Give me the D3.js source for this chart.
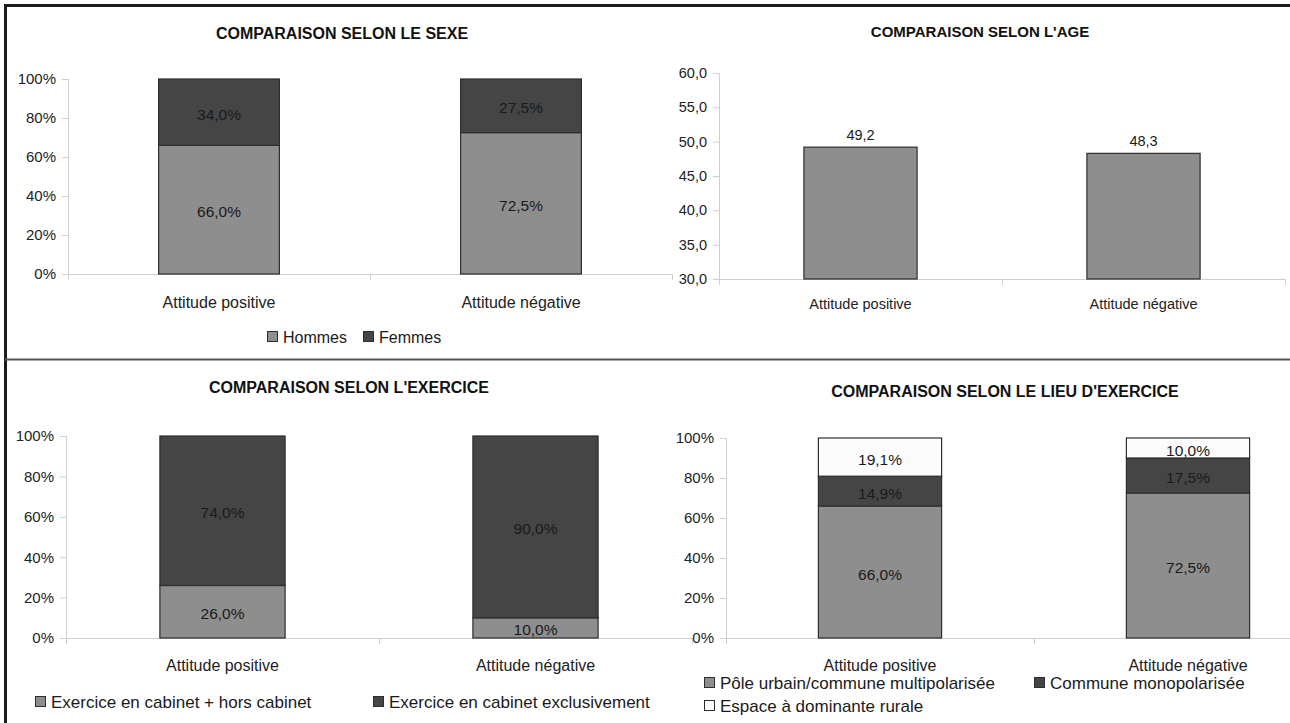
<!DOCTYPE html>
<html>
<head>
<meta charset="utf-8">
<script src="https://cdn.jsdelivr.net/npm/d3@7"></script>
<style>
  html, body { margin: 0; padding: 0; background: #fff; }
  svg { display: block; font-family: "Liberation Sans", Arial, sans-serif; }
  .axis path, .axis line { stroke: #cfcfcf; }
  .axis text { fill: #222; }
</style>
</head>
<body>
<svg id="chart" width="1290" height="723"></svg>
<script>
// ---- data ----
const attitudes = ["Attitude positive", "Attitude négative"];
const pctTicks = [0, 20, 40, 60, 80, 100];

const sexeTitle = "COMPARAISON SELON LE SEXE";
const sexeSeries = ["Hommes", "Femmes"];
const sexeValues = [[66.0, 72.5], [34.0, 27.5]];

const ageTitle = "COMPARAISON SELON L'AGE";
const ageValues = [49.2, 48.3];
const ageTicks = [30, 35, 40, 45, 50, 55, 60];

const exerciceTitle = "COMPARAISON SELON L'EXERCICE";
const exerciceSeries = ["Exercice en cabinet + hors cabinet", "Exercice en cabinet exclusivement"];
const exerciceValues = [[26.0, 10.0], [74.0, 90.0]];

const lieuTitle = "COMPARAISON SELON LE LIEU D'EXERCICE";
const lieuSeries = ["Pôle urbain/commune multipolarisée", "Commune monopolarisée", "Espace à dominante rurale"];
const lieuValues = [[66.0, 72.5], [14.9, 17.5], [19.1, 10.0]];

// ---- styles ----
const LIGHT = "#8e8e8e", DARK = "#454545", WHITE = "#fcfcfc";
const fmt1 = d3.format(".1f");
const comma = v => fmt1(v).replace(".", ",");

const svg = d3.select("#chart");

// frame lines
svg.append("line").attr("x1", 4).attr("x2", 1290).attr("y1", 5.5).attr("y2", 5.5)
  .attr("stroke", "#1c1c1c").attr("stroke-width", 3);
svg.append("line").attr("x1", 5.5).attr("x2", 5.5).attr("y1", 4).attr("y2", 723)
  .attr("stroke", "#1c1c1c").attr("stroke-width", 3);
svg.append("line").attr("x1", 5).attr("x2", 1290).attr("y1", 359.5).attr("y2", 359.5)
  .attr("stroke", "#555").attr("stroke-width", 2);

function title(text, cx, cy, fs) {
  svg.append("text").attr("x", cx).attr("y", cy)
    .attr("text-anchor", "middle").attr("dominant-baseline", "central")
    .attr("font-weight", "bold").attr("font-size", fs).attr("fill", "#111")
    .text(text);
}

function axes(g, x, y, yTicks, yFmt, x0, x1, yBase, fs) {
  const ya = g.append("g").attr("class", "axis").attr("transform", `translate(${x0},0)`)
    .call(d3.axisLeft(y).tickValues(yTicks).tickFormat(yFmt).tickSize(6).tickPadding(6));
  ya.selectAll("text").attr("font-size", fs).attr("font-family", "Liberation Sans, Arial, sans-serif");
  // category axis with boundary ticks
  const xa = g.append("g").attr("class", "axis");
  xa.append("line").attr("x1", x0).attr("x2", x1).attr("y1", yBase + 0.5).attr("y2", yBase + 0.5);
  const bounds = [x0, x0 + x.step(), x0 + 2 * x.step()];
  xa.selectAll("line.b").data(bounds).join("line").attr("class", "b")
    .attr("x1", d => d + 0.5).attr("x2", d => d + 0.5).attr("y1", yBase).attr("y2", yBase + 6);
}

function catLabels(g, x, yc, fs) {
  g.selectAll("text.cat").data(attitudes).join("text").attr("class", "cat")
    .attr("x", d => x(d) + x.bandwidth() / 2).attr("y", yc)
    .attr("text-anchor", "middle").attr("dominant-baseline", "central")
    .attr("font-size", fs).attr("fill", "#222").text(d => d);
}

function stacked(cfg) {
  const g = svg.append("g");
  const x = d3.scaleBand().domain(attitudes).range([cfg.x0, cfg.x1]).paddingInner(0).paddingOuter(0);
  const y = d3.scaleLinear().domain([0, 100]).range([cfg.yBot, cfg.yTop]);
  const barW = x.step() * 0.4;
  axes(g, x, y, pctTicks, d => d + "%", cfg.x0, cfg.x1, cfg.yBot, 15);
  const stackData = attitudes.map((a, i) => {
    const o = { cat: a };
    cfg.series.forEach((s, j) => o[s] = cfg.values[j][i]);
    return o;
  });
  const layers = d3.stack().keys(cfg.series)(stackData);
  layers.forEach((layer, j) => {
    const lg = g.append("g");
    lg.selectAll("rect").data(layer).join("rect")
      .attr("x", d => x(d.data.cat) + (x.step() - barW) / 2)
      .attr("width", barW)
      .attr("y", d => y(d[1]))
      .attr("height", d => y(d[0]) - y(d[1]))
      .attr("fill", cfg.colors[j]).attr("stroke", "#2e2e2e").attr("stroke-width", 1.2);
    lg.selectAll("text").data(layer).join("text")
      .attr("x", d => x(d.data.cat) + x.step() / 2)
      .attr("y", d => (y(d[0]) + y(d[1])) / 2 + 2)
      .attr("text-anchor", "middle").attr("dominant-baseline", "central")
      .attr("font-size", 15.5).attr("fill", "#1a1a1a")
      .text(d => comma(d[1] - d[0]) + "%");
  });
  catLabels(g, x, cfg.catY, 16);
  // legend
  cfg.legend.forEach((it, j) => {
    g.append("rect").attr("x", it[0] + 0.5).attr("y", it[1] - 5.5).attr("width", 10).attr("height", 10)
      .attr("fill", cfg.colors[j]).attr("stroke", "#2e2e2e").attr("stroke-width", 1);
    g.append("text").attr("x", it[0] + 16).attr("y", it[1]).attr("dominant-baseline", "central")
      .attr("font-size", cfg.legendSize).attr("fill", "#1a1a1a").text(cfg.series[j]);
  });
}

// top-left: sex
title(sexeTitle, 342, 33, 16);
stacked({ x0: 68, x1: 672, yTop: 79, yBot: 274, catY: 302,
  series: sexeSeries, values: sexeValues, colors: [LIGHT, DARK],
  legend: [[267, 337], [363, 337]], legendSize: 16 });

// top-right: mean age
title(ageTitle, 980, 31, 15);
(function () {
  const g = svg.append("g");
  const x0 = 719, x1 = 1285, yBot = 279, yTop = 73;
  const x = d3.scaleBand().domain(attitudes).range([x0, x1]);
  const y = d3.scaleLinear().domain([30, 60]).range([yBot, yTop]);
  const barW = x.step() * 0.4;
  axes(g, x, y, ageTicks, comma, x0, x1, yBot, 14.5);
  g.selectAll("rect").data(ageValues).join("rect")
    .attr("x", (d, i) => x(attitudes[i]) + (x.step() - barW) / 2)
    .attr("width", barW)
    .attr("y", d => y(d)).attr("height", d => yBot - y(d))
    .attr("fill", LIGHT).attr("stroke", "#2e2e2e").attr("stroke-width", 1.2);
  g.selectAll("text.v").data(ageValues).join("text").attr("class", "v")
    .attr("x", (d, i) => x(attitudes[i]) + x.step() / 2)
    .attr("y", d => y(d) - 12)
    .attr("text-anchor", "middle").attr("dominant-baseline", "central")
    .attr("font-size", 14.5).attr("fill", "#1a1a1a").text(comma);
  catLabels(g, x, 304, 14.5);
})();

// bottom-left: type of practice
title(exerciceTitle, 349, 387, 16);
stacked({ x0: 66, x1: 692, yTop: 436, yBot: 638, catY: 665,
  series: exerciceSeries, values: exerciceValues, colors: [LIGHT, DARK],
  legend: [[35, 702], [373, 702]], legendSize: 17 });

// bottom-right: place of practice
title(lieuTitle, 1005, 391, 16);
stacked({ x0: 726, x1: 1342, yTop: 438, yBot: 638, catY: 665,
  series: lieuSeries, values: lieuValues, colors: [LIGHT, DARK, WHITE],
  legend: [[704, 683], [1034, 683], [704, 706]], legendSize: 17 });
</script>
</body>
</html>
